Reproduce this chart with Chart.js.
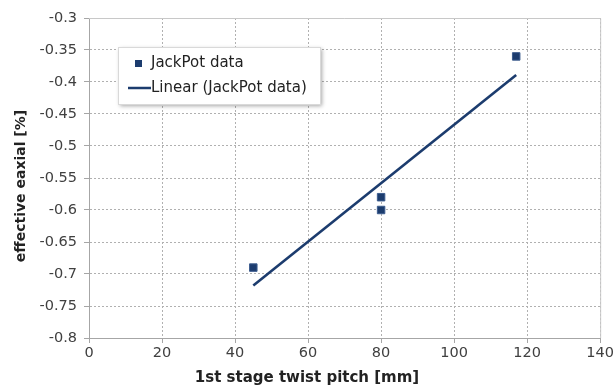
<!DOCTYPE html>
<html>
<head>
<meta charset="utf-8">
<script src="https://cdn.jsdelivr.net/npm/chart.js@4/dist/chart.umd.min.js"></script>
<style>
html,body{margin:0;padding:0;background:#fff;}
#wrap{width:616px;height:389px;position:relative;}
</style>
</head>
<body>
<div id="wrap"><canvas id="c" width="616" height="389"></canvas></div>
<script>
// Data
const seriesName = 'JackPot data';
const trendName = 'Linear (JackPot data)';
const pitchX = [45, 80, 80, 117];
const eaxialY = [-0.69, -0.58, -0.60, -0.36];
const trendX = [45, 117];
const trendY = [-0.718, -0.389];
const xTicks = [0, 20, 40, 60, 80, 100, 120, 140];
const yTicks = [-0.8, -0.75, -0.7, -0.65, -0.6, -0.55, -0.5, -0.45, -0.4, -0.35, -0.3];
const xTitle = '1st stage twist pitch [mm]';
const yTitle = 'effective eaxial [%]';

const navy = '#1c3c6e';
const WIDE = '"DejaVu Sans", Verdana, sans-serif';

const points = pitchX.map((x, i) => ({x: x, y: eaxialY[i]}));
const trend = trendX.map((x, i) => ({x: x, y: trendY[i]}));

const frame = {
  id: 'frame',
  afterDraw(chart) {
    const {ctx, chartArea: a} = chart;
    ctx.save();
    ctx.strokeStyle = '#c8c8c8';
    ctx.lineWidth = 1;
    ctx.beginPath();
    ctx.moveTo(a.left, a.top + 0.5);
    ctx.lineTo(a.right + 0.5, a.top + 0.5);
    ctx.lineTo(a.right + 0.5, a.bottom);
    ctx.stroke();

    // axis titles
    ctx.fillStyle = '#222';
    ctx.textAlign = 'center';
    ctx.textBaseline = 'middle';
    ctx.font = 'bold 15px ' + WIDE;
    ctx.fillText(xTitle, 307, 378);
    ctx.save();
    ctx.translate(21, 186);
    ctx.rotate(-Math.PI / 2);
    ctx.font = 'bold 14px ' + WIDE;
    ctx.fillText(yTitle, 0, 0);
    ctx.restore();

    // legend box
    const bx = 118, by = 47, bw = 202, bh = 57;
    ctx.save();
    ctx.shadowColor = 'rgba(0,0,0,0.35)';
    ctx.shadowBlur = 4;
    ctx.shadowOffsetX = 2;
    ctx.shadowOffsetY = 2;
    ctx.fillStyle = '#fff';
    ctx.fillRect(bx, by, bw, bh);
    ctx.restore();
    ctx.strokeStyle = '#d9d9d9';
    ctx.lineWidth = 1;
    ctx.strokeRect(bx + 0.5, by + 0.5, bw, bh);
    const ds = chart.data.datasets;
    ctx.font = '15px ' + WIDE;
    ctx.textBaseline = 'middle';
    ctx.textAlign = 'left';
    ctx.fillStyle = navy;
    ctx.fillRect(135, 60, 7, 7);
    ctx.fillStyle = '#222';
    ctx.fillText(ds[0].label, 151, 63.5);
    ctx.strokeStyle = navy;
    ctx.lineWidth = 2.5;
    ctx.beginPath();
    ctx.moveTo(128, 88);
    ctx.lineTo(151, 88);
    ctx.stroke();
    ctx.fillText(ds[1].label, 151, 88);
    ctx.restore();
  }
};

new Chart(document.getElementById('c'), {
  type: 'scatter',
  data: {
    datasets: [
      {
        label: seriesName,
        data: points,
        pointStyle: 'rect',
        pointRadius: 5.3,
        pointBackgroundColor: navy,
        pointBorderColor: '#3d5d8f',
        pointBorderWidth: 1,
        showLine: false,
        order: 1
      },
      {
        label: trendName,
        data: trend,
        showLine: true,
        borderColor: navy,
        borderWidth: 2.6,
        pointRadius: 0,
        fill: false,
        order: 2
      }
    ]
  },
  plugins: [frame],
  options: {
    responsive: false,
    animation: false,
    layout: {padding: {top: 18, right: 15, left: 0, bottom: 0}},
    plugins: {
      legend: {display: false},
      tooltip: {enabled: false}
    },
    scales: {
      x: {
        type: 'linear',
        min: 0, max: 140,
        afterBuildTicks(s) { s.ticks = xTicks.map(v => ({value: v})); },
        afterFit(s) { s.height = 51; },
        ticks: {
          color: '#404040',
          font: {family: WIDE, size: 14.5},
          padding: 2,
          maxRotation: 0,
          callback: v => String(v)
        },
        grid: {color: '#b0b0b0', lineWidth: 1, tickLength: 5, tickColor: '#a6a6a6'},
        border: {color: '#a6a6a6', width: 1, dash: [2, 2]},
        title: {display: false}
      },
      y: {
        type: 'linear',
        min: -0.8, max: -0.3,
        afterBuildTicks(s) { s.ticks = yTicks.map(v => ({value: v})); },
        afterFit(s) { s.width = 89; },
        ticks: {
          color: '#404040',
          font: {family: WIDE, size: 14.5},
          padding: 7,
          callback: v => String(+v.toFixed(2))
        },
        grid: {color: '#b0b0b0', lineWidth: 1, tickLength: 5, tickColor: '#a6a6a6'},
        border: {color: '#a6a6a6', width: 1, dash: [2, 2]},
        title: {display: false}
      }
    }
  }
});
</script>
</body>
</html>
